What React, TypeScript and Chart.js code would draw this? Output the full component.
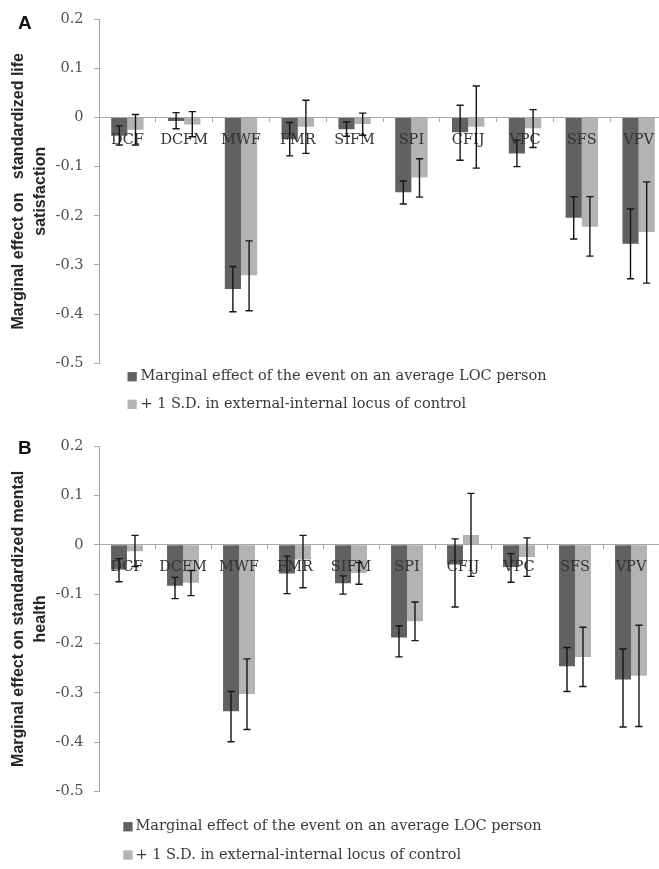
import React, { useEffect, useRef } from "react";
import { Chart, registerables } from "chart.js";

Chart.register(...registerables);

// ---------- data ----------
const CATEGORIES = ["DCF", "DCFM", "MWF", "FMR", "SIFM", "SPI", "CFIJ", "VPC", "SFS", "VPV"];
const SERIES_NAMES = [
  "Marginal effect of the event on an average LOC person",
  "+ 1 S.D. in external-internal locus of control",
];
const Y_TICK_VALUES = [-0.5, -0.4, -0.3, -0.2, -0.1, 0, 0.1, 0.2];
const Y_TICK_LABELS = ["-0.5", "-0.4", "-0.3", "-0.2", "-0.1", "0", "0.1", "0.2"];

// Panel A: standardized life satisfaction
const A_TITLE = ["Marginal effect on   standardized life", "satisfaction"];
const A_AVG = [-0.037, -0.007, -0.349, -0.044, -0.024, -0.152, -0.030, -0.073, -0.204, -0.257];
const A_AVG_LOW = [-0.056, -0.023, -0.395, -0.078, -0.038, -0.176, -0.087, -0.100, -0.247, -0.328];
const A_AVG_HIGH = [-0.017, 0.010, -0.303, -0.010, -0.009, -0.129, 0.025, -0.046, -0.161, -0.186];
const A_SD = [-0.025, -0.014, -0.321, -0.019, -0.013, -0.122, -0.019, -0.022, -0.222, -0.233];
const A_SD_LOW = [-0.056, -0.039, -0.393, -0.073, -0.036, -0.162, -0.103, -0.061, -0.282, -0.337];
const A_SD_HIGH = [0.006, 0.012, -0.251, 0.035, 0.009, -0.084, 0.064, 0.016, -0.161, -0.131];

// Panel B: standardized mental health
const B_TITLE = ["Marginal effect on standardized mental", "health"];
const B_AVG = [-0.050, -0.083, -0.337, -0.058, -0.078, -0.188, -0.040, -0.045, -0.246, -0.273];
const B_AVG_LOW = [-0.075, -0.109, -0.399, -0.099, -0.100, -0.227, -0.126, -0.076, -0.297, -0.369];
const B_AVG_HIGH = [-0.028, -0.066, -0.297, -0.023, -0.063, -0.164, 0.012, -0.018, -0.208, -0.211];
const B_SD = [-0.013, -0.077, -0.302, -0.030, -0.057, -0.155, 0.020, -0.025, -0.227, -0.265];
const B_SD_LOW = [-0.044, -0.103, -0.374, -0.087, -0.080, -0.194, -0.064, -0.064, -0.287, -0.368];
const B_SD_HIGH = [0.019, -0.052, -0.231, 0.019, -0.036, -0.116, 0.104, 0.014, -0.167, -0.163];

// ---------- styles ----------
const DARK = "#616161";
const LIGHT = "#b3b3b3";
const AXIS = "#a8a8a8";
const SERIF = '"DejaVu Serif", "Liberation Serif", serif';
const SANS_NARROW = '"Liberation Sans Narrow", "Liberation Sans", Arial, sans-serif';

const errorBarPlugin = {
  id: "errorBars",
  afterDraw(chart: any) {
    const ctx = chart.ctx;
    const yScale = chart.scales.y;
    ctx.save();
    ctx.strokeStyle = "#151515";
    ctx.lineWidth = 1.4;
    chart.data.datasets.forEach((ds: any, i: number) => {
      const meta = chart.getDatasetMeta(i);
      meta.data.forEach((el: any, j: number) => {
        const x = el.x;
        const yl = yScale.getPixelForValue(ds.errLow[j]);
        const yh = yScale.getPixelForValue(ds.errHigh[j]);
        const cap = 3.6;
        ctx.beginPath();
        ctx.moveTo(x, yl);
        ctx.lineTo(x, yh);
        ctx.moveTo(x - cap, yl);
        ctx.lineTo(x + cap, yl);
        ctx.moveTo(x - cap, yh);
        ctx.lineTo(x + cap, yh);
        ctx.stroke();
      });
    });
    ctx.restore();
  },
};

const legendPlugin = {
  id: "panelLegend",
  afterDraw(chart: any, _args: any, opts: any) {
    const ctx = chart.ctx;
    ctx.save();
    ctx.font = `14.5px ${SERIF}`;
    ctx.textBaseline = "middle";
    ctx.textAlign = "left";
    chart.data.datasets.forEach((ds: any, i: number) => {
      const cy = opts.y + i * opts.gap;
      ctx.fillStyle = ds.backgroundColor;
      ctx.fillRect(opts.x, cy - 4.6, 9.3, 9.3);
      ctx.fillStyle = "#3a3a3a";
      ctx.fillText(ds.label, opts.textX, cy);
    });
    ctx.restore();
  },
};

type PanelProps = {
  title: string[];
  avg: number[];
  avgLow: number[];
  avgHigh: number[];
  sd: number[];
  sdLow: number[];
  sdHigh: number[];
  width: number;
  height: number;
  top: number;
  padTop: number;
  padBottom: number;
  padRight: number;
  legend: { x: number; textX: number; y: number; gap: number };
};

function Panel(p: PanelProps) {
  const ref = useRef<HTMLCanvasElement | null>(null);
  useEffect(() => {
    if (!ref.current) return;
    const chart = new Chart(ref.current, {
      type: "bar",
      data: {
        labels: CATEGORIES,
        datasets: [
          {
            label: SERIES_NAMES[0],
            data: p.avg,
            backgroundColor: DARK,
            borderWidth: 0,
            categoryPercentage: 0.57,
            barPercentage: 1,
            errLow: p.avgLow,
            errHigh: p.avgHigh,
          } as any,
          {
            label: SERIES_NAMES[1],
            data: p.sd,
            backgroundColor: LIGHT,
            borderWidth: 0,
            categoryPercentage: 0.57,
            barPercentage: 1,
            errLow: p.sdLow,
            errHigh: p.sdHigh,
          } as any,
        ],
      },
      options: {
        responsive: false,
        animation: false,
        devicePixelRatio: 1,
        events: [],
        layout: { padding: { top: p.padTop, bottom: p.padBottom, left: 0, right: p.padRight } },
        plugins: {
          legend: { display: false },
          tooltip: { enabled: false },
          panelLegend: p.legend,
        } as any,
        scales: {
          x: {
            type: "category",
            position: { y: 0 } as any,
            grid: {
              display: true,
              drawOnChartArea: false,
              drawTicks: true,
              tickLength: 4,
              offset: true,
              color: AXIS,
              z: 1,
            },
            border: { display: true, color: AXIS, width: 1, z: 1 },
            ticks: {
              z: 2,
              autoSkip: false,
              maxRotation: 0,
              padding: 10,
              color: "#333333",
              font: { family: SERIF, size: 14.5 },
            },
          },
          y: {
            min: -0.5,
            max: 0.2,
            afterFit: (s: any) => {
              s.width = 99;
            },
            afterBuildTicks: (s: any) => {
              s.ticks = Y_TICK_VALUES.map((v) => ({ value: v }));
            },
            grid: {
              display: true,
              drawOnChartArea: false,
              drawTicks: true,
              tickLength: 5,
              color: AXIS,
            },
            border: { display: true, color: AXIS, width: 1 },
            ticks: {
              padding: 10.5,
              color: "#505050",
              font: { family: SERIF, size: 14.5 },
              callback: (v: any) => {
                const idx = Y_TICK_VALUES.findIndex((t) => Math.abs(t - Number(v)) < 1e-9);
                return idx >= 0 ? Y_TICK_LABELS[idx] : "";
              },
            },
            title: {
              display: true,
              text: p.title,
              color: "#262626",
              padding: { top: 8, bottom: 0 },
              font: { family: SANS_NARROW, size: 16, weight: "bold", lineHeight: 1.36 },
            },
          },
        },
      } as any,
      plugins: [errorBarPlugin, legendPlugin],
    });
    return () => chart.destroy();
  }, []);
  return (
    <canvas
      ref={ref}
      width={p.width}
      height={p.height}
      style={{ position: "absolute", left: 0, top: p.top, width: p.width, height: p.height }}
    />
  );
}

const letterStyle: React.CSSProperties = {
  position: "absolute",
  left: 18,
  fontFamily: '"Liberation Sans", Arial, sans-serif',
  fontWeight: "bold",
  fontSize: 19,
  lineHeight: "19px",
  color: "#111",
};

export default function App() {
  return (
    <div
      style={{
        position: "absolute",
        left: 0,
        top: 0,
        width: 659,
        height: 869,
        overflow: "hidden",
        background: "#ffffff",
      }}
    >
      <Panel
        title={A_TITLE}
        avg={A_AVG}
        avgLow={A_AVG_LOW}
        avgHigh={A_AVG_HIGH}
        sd={A_SD}
        sdLow={A_SD_LOW}
        sdHigh={A_SD_HIGH}
        width={678}
        height={420}
        top={0}
        padTop={19}
        padBottom={56.7}
        padRight={11}
        legend={{ x: 127.5, textX: 140.5, y: 376.7, gap: 27.6 }}
      />
      <Panel
        title={B_TITLE}
        avg={B_AVG}
        avgLow={B_AVG_LOW}
        avgHigh={B_AVG_HIGH}
        sd={B_SD}
        sdLow={B_SD_LOW}
        sdHigh={B_SD_HIGH}
        width={670}
        height={449}
        top={420}
        padTop={26}
        padBottom={77.3}
        padRight={11}
        legend={{ x: 123.3, textX: 135.5, y: 406.7, gap: 28.3 }}
      />
      <div style={{ ...letterStyle, top: 12.5 }}>A</div>
      <div style={{ ...letterStyle, top: 437.5 }}>B</div>
    </div>
  );
}
